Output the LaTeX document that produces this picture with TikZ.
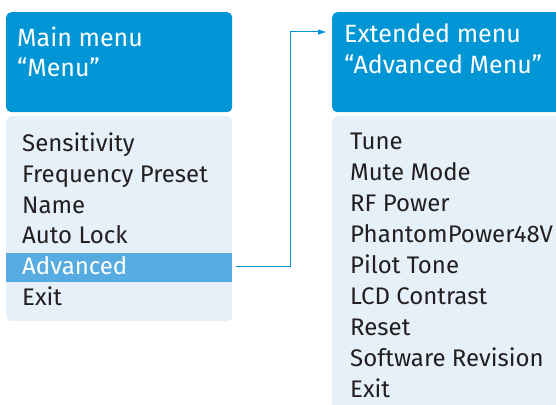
\documentclass[tikz,border=0pt]{standalone}
\usepackage{fontspec}
\setmainfont{Fira Sans}
\usetikzlibrary{arrows.meta}
\definecolor{headblue}{HTML}{0096D6}
\definecolor{bodyblue}{HTML}{E5F0F9}
\definecolor{selblue}{HTML}{56ACE0}
\definecolor{ink}{HTML}{231F20}
\tikzset{
  panel/.style={anchor=north west, inner sep=0pt, rounded corners=5pt},
  headbox/.style={panel, fill=headblue},
  bodybox/.style={panel, fill=bodyblue},
  selbar/.style={anchor=north west, inner sep=0pt, fill=selblue},
  headtext/.style={anchor=base west, inner sep=0pt, text=white, font=\fontsize{25}{29}\selectfont},
  item/.style={anchor=base west, inner sep=0pt, text=ink, font=\fontsize{24}{28}\selectfont},
  selitem/.style={item, text=white},
  link/.style={draw=headblue, line width=1pt, -{Triangle[length=8pt,width=5pt]}}
}
\begin{document}
\begin{tikzpicture}[x=1pt,y=-1pt]
\useasboundingbox (0,0) rectangle (556,404);
\clip (0,0) rectangle (556,404);

% main menu
\node[headbox, minimum width=226pt, minimum height=100pt] (mainhead) at (6,12) {};
\node[bodybox, minimum width=226pt, minimum height=205pt] (mainbody) at (6,116) {};
\node[selbar, minimum width=226pt, minimum height=29pt] (selrow) at (6,253) {};
\node[headtext] (mh1) at (17,47) {Main menu};
\node[headtext] (mh2) at (17,76) {“Menu”};
\node[item] (m1) at (22,151.7) {Sensitivity};
\node[item] (m2) at (22,182.4) {Frequency Preset};
\node[item] (m3) at (22,213.1) {Name};
\node[item] (m4) at (22,243.8) {Auto Lock};
\node[selitem] (m5) at (22,274.5) {Advanced};
\node[item] (m6) at (22,305.2) {Exit};

% extended menu
\node[headbox, minimum width=240pt, minimum height=100pt] (exthead) at (332,12) {};
\node[bodybox, minimum width=240pt, minimum height=300pt] (extbody) at (332,116) {};
\node[headtext] (eh1) at (344,43) {Extended menu};
\node[headtext] (eh2) at (344,74) {“Advanced Menu”};
\node[item] (e1) at (350,149.3) {Tune};
\node[item] (e2) at (350,180.3) {Mute Mode};
\node[item] (e3) at (350,211.3) {RF Power};
\node[item] (e4) at (350,242.3) {PhantomPower48V};
\node[item] (e5) at (350,273.3) {Pilot Tone};
\node[item] (e6) at (350,304.3) {LCD Contrast};
\node[item] (e7) at (350,335.3) {Reset};
\node[item] (e8) at (350,366.3) {Software Revision};
\node[item] (e9) at (350,397.3) {Exit};

% connector from the selected row to the extended menu
\coordinate (tip) at (326,32);
\draw[link] ([xshift=4pt,yshift=1pt]selrow.east) -- ++(54,0) |- (tip);
\end{tikzpicture}
\end{document}
